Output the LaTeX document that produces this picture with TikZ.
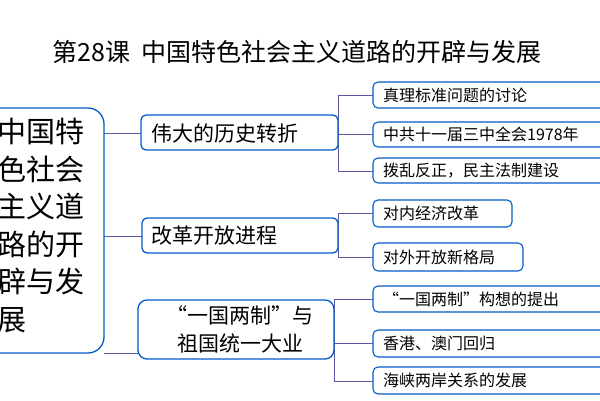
\documentclass[tikz,border=0pt]{standalone}
\usepackage{fontspec}
\setmainfont{Noto Sans CJK SC}
\begin{document}
\begin{tikzpicture}[x=1pt,y=-1pt,
  bx/.style={draw=blue!55!cyan!80!black,line width=1.3pt,rounded corners=5pt,fill=white},
  ln/.style={draw=blue!30!gray,line width=0.8pt},
  lt/.style={anchor=west,font=\fontsize{16}{18}\selectfont,inner sep=0pt}]
\useasboundingbox (0,0) rectangle (600,400);
\clip (0,0) rectangle (600,400);
\fill[white] (0,0) rectangle (600,400);
\node (title) at (297,52) {\fontsize{25}{28}\selectfont 第28课\ \ 中国特色社会主义道路的开辟与发展};
% connectors
\draw[ln] (104,133) -- (141,133);
\draw[ln] (104,236) -- (142,236);
\draw[ln] (104,353) -- (138,353);
\draw[ln] (338,95) -- (338,171) (338,95) -- (373,95) (338,134) -- (373,134) (338,171) -- (373,171);
\draw[ln] (338,213) -- (338,257) (338,213) -- (373,213) (338,257) -- (373,257);
\draw[ln] (334,299) -- (334,381) (334,299) -- (373,299) (334,343) -- (373,343) (334,381) -- (373,381);
% main box
\draw[bx,rounded corners=16pt] (-30,108) rectangle (104,353);
\node[anchor=north west,inner sep=0pt,align=left,font=\fontsize{29}{37.5}\selectfont] (main) at (-3,118) {中国特\\色社会\\主义道\\路的开\\辟与发\\展};
% level 2
\draw[bx] (141,115) rectangle (338,150);
\node[anchor=west,font=\fontsize{21}{24}\selectfont,inner sep=0pt] (b1) at (151,133) {伟大的历史转折};
\draw[bx] (142,218) rectangle (338,253);
\node[anchor=west,font=\fontsize{21}{24}\selectfont,inner sep=0pt] (b2) at (151,236) {改革开放进程};
\draw[bx,rounded corners=9pt] (138,300) rectangle (334,359);
\node[align=center,font=\fontsize{21}{28}\selectfont,inner sep=0pt] (b3) at (240,329) {“一国两制”与\\祖国统一大业};
% leaves
\foreach \a/\b/\r/\t in {82/108/620/真理标准问题的讨论,122/147/620/中共十一届三中全会1978年,158/183/620/{拨乱反正，民主法制建设},200/227/512/对内经济改革,243/271/523/对外开放新格局,286/312/620/{“一国两制”构想的提出},330/357/620/香港、澳门回归,367/394/620/海峡两岸关系的发展}{
  \draw[bx,line width=1.1pt] (373,\a) rectangle (\r,\b);
  \node[lt] at (383,{(\a+\b)/2}) {\t};
}
\end{tikzpicture}
\end{document}
